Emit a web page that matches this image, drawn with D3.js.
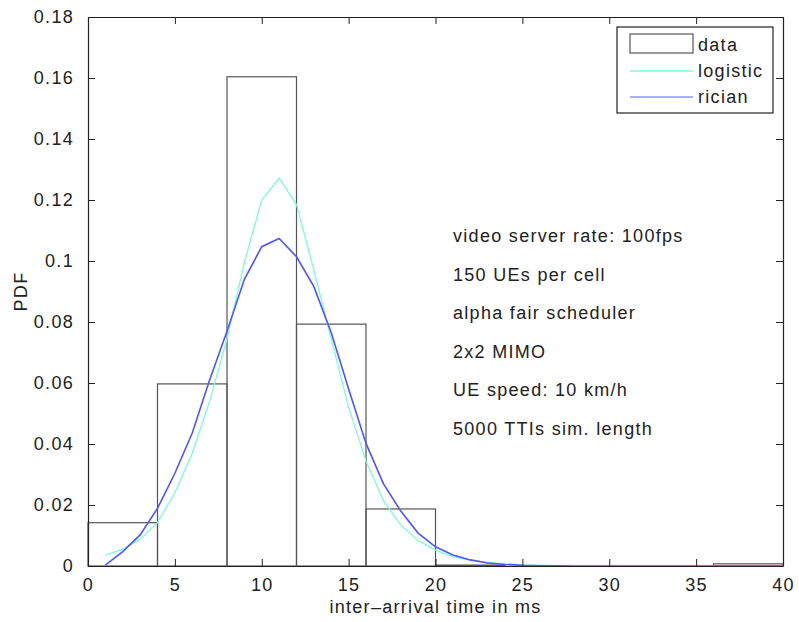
<!DOCTYPE html>
<html>
<head>
<meta charset="utf-8">
<script src="https://cdn.jsdelivr.net/npm/d3@7"></script>
<style>
  body { margin: 0; background: #fff; }
  text { font-family: "Liberation Sans", Arial, sans-serif; fill: #222; }
</style>
</head>
<body>
<svg id="chart"></svg>
<script>
// histogram bins (width 4 ms)
const binStarts = [0, 4, 8, 12, 16, 20, 24, 28, 32, 36];
const binHeights = [0.0142, 0.0597, 0.1604, 0.0793, 0.0187, 0.0003, 0, 0, 0, 0.0007];

// fitted pdfs, sampled at 1..40 ms
const curveX = [1, 2, 3, 4, 5, 6, 7, 8, 9, 10, 11, 12, 13, 14, 15, 16, 17, 18, 19, 20,
  21, 22, 23, 24, 25, 26, 27, 28, 29, 30, 31, 32, 33, 34, 35, 36, 37, 38, 39, 40];
const logisticY = [0.0036, 0.0055, 0.0088, 0.0142, 0.024, 0.037, 0.054, 0.0745, 0.0995, 0.1200,
  0.1272, 0.1185, 0.097, 0.0745, 0.052, 0.0344, 0.0215, 0.0134, 0.0084, 0.0052,
  0.0031, 0.0019, 0.0012, 0.0007, 0.0004, 0.00025, 0.00015, 0.0001, 0.00006, 0.00004,
  0.00003, 0.00002, 0.00001, 0.00001, 0, 0, 0, 0, 0, 0];
const ricianY = [0.0003, 0.0047, 0.0102, 0.0189, 0.0304, 0.0436, 0.061, 0.077, 0.094, 0.1047,
  0.1074, 0.1014, 0.0916, 0.0765, 0.058, 0.0402, 0.027, 0.018, 0.0108, 0.0063,
  0.0036, 0.002, 0.001, 0.0005, 0.0002, 0.0001, 0.00005, 0.00002, 0, 0,
  0, 0, 0, 0, 0, 0, 0, 0, 0, 0];

const xTicks = [0, 5, 10, 15, 20, 25, 30, 35, 40];
const yTicks = [0, 0.02, 0.04, 0.06, 0.08, 0.1, 0.12, 0.14, 0.16, 0.18];
const notes = ["video server rate: 100fps", "150 UEs per cell", "alpha fair scheduler",
  "2x2 MIMO", "UE speed: 10 km/h", "5000 TTIs sim. length"];
const legendNames = ["data", "logistic", "rician"];

const width = 799, height = 622;
const plotL = 88, plotR = 783, plotT = 17, plotB = 566;
const logisticColor = "#7dfbd9", ricianColor = "#4f55ff", frameColor = "#222";

const svg = d3.select("#chart").attr("width", width).attr("height", height);

const x = d3.scaleLinear().domain([0, 40]).range([plotL, plotR]);
const y = d3.scaleLinear().domain([0, 0.18]).range([plotB, plotT]);

// bars
svg.append("g").selectAll("rect")
  .data(binStarts.map((s, i) => ({ s, h: binHeights[i] })).filter(d => d.h > 0))
  .enter().append("rect")
  .attr("x", d => x(d.s))
  .attr("y", d => y(d.h))
  .attr("width", d => x(d.s + 4) - x(d.s))
  .attr("height", d => y(0) - y(d.h))
  .attr("fill", "none")
  .attr("stroke", "#555")
  .attr("stroke-width", 1.2);

const line = d3.line().x(d => x(d[0])).y(d => y(d[1]));

svg.append("path")
  .datum(curveX.map((v, i) => [v, logisticY[i]]))
  .attr("d", line)
  .attr("fill", "none")
  .attr("stroke", logisticColor)
  .attr("stroke-width", 1.3);

svg.append("path")
  .datum(curveX.map((v, i) => [v, ricianY[i]]))
  .attr("d", line)
  .attr("fill", "none")
  .attr("stroke", ricianColor)
  .attr("stroke-width", 1.6);

// axes, matlab style box with inward ticks on all sides
const tickLen = 7;
const axisBottom = d3.axisBottom(x).tickValues(xTicks).tickSizeInner(-tickLen).tickSizeOuter(0).tickPadding(12);
const axisLeft = d3.axisLeft(y).tickValues(yTicks).tickSizeInner(-tickLen).tickSizeOuter(0).tickPadding(14)
  .tickFormat(d => d === 0 ? "0" : String(+d.toFixed(2)));
const axisTop = d3.axisTop(x).tickValues(xTicks).tickSizeInner(-tickLen).tickSizeOuter(0).tickFormat("");
const axisRight = d3.axisRight(y).tickValues(yTicks).tickSizeInner(-tickLen).tickSizeOuter(0).tickFormat("");

svg.append("g").attr("transform", `translate(0,${plotB})`).call(axisBottom);
svg.append("g").attr("transform", `translate(${plotL},0)`).call(axisLeft);
svg.append("g").attr("transform", `translate(0,${plotT})`).call(axisTop);
svg.append("g").attr("transform", `translate(${plotR},0)`).call(axisRight);

svg.selectAll(".domain").attr("stroke", frameColor).attr("stroke-width", 1.2);
svg.selectAll(".tick line").attr("stroke", frameColor);
svg.selectAll(".tick text")
  .style("font-size", "18px")
  .style("letter-spacing", "1.3px")
  .attr("fill", "#222");

// axis labels
svg.append("text")
  .attr("x", x(20)).attr("y", 613)
  .attr("text-anchor", "middle")
  .style("font-size", "18px").style("letter-spacing", "1.3px")
  .text("inter\u2013arrival time in ms");

svg.append("text")
  .attr("transform", `translate(27,${(plotT + plotB) / 2}) rotate(-90)`)
  .attr("text-anchor", "middle")
  .style("font-size", "18px").style("letter-spacing", "1.3px")
  .text("PDF");

// annotation block
svg.append("g").selectAll("text")
  .data(notes)
  .enter().append("text")
  .attr("x", 453)
  .attr("y", (d, i) => 242 + i * 38.6)
  .style("font-size", "18px").style("letter-spacing", "1.3px")
  .text(d => d);

// legend
const lg = svg.append("g");
lg.append("rect")
  .attr("x", 617).attr("y", 27).attr("width", 156).attr("height", 86)
  .attr("fill", "#fff").attr("stroke", frameColor).attr("stroke-width", 1.2);
const rowY = [45, 71, 97];
lg.append("rect")
  .attr("x", 630).attr("y", 34).attr("width", 63).attr("height", 19)
  .attr("fill", "none").attr("stroke", "#555").attr("stroke-width", 1.2);
lg.append("line").attr("x1", 630).attr("x2", 693).attr("y1", rowY[1]).attr("y2", rowY[1])
  .attr("stroke", logisticColor).attr("stroke-width", 1.3);
lg.append("line").attr("x1", 630).attr("x2", 693).attr("y1", rowY[2]).attr("y2", rowY[2])
  .attr("stroke", "#aab0ff").attr("stroke-width", 2);
lg.selectAll("text.leg")
  .data(legendNames)
  .enter().append("text")
  .attr("class", "leg")
  .attr("x", 698)
  .attr("y", (d, i) => rowY[i] + 6)
  .style("font-size", "18px").style("letter-spacing", "1.3px")
  .text(d => d);
</script>
</body>
</html>
